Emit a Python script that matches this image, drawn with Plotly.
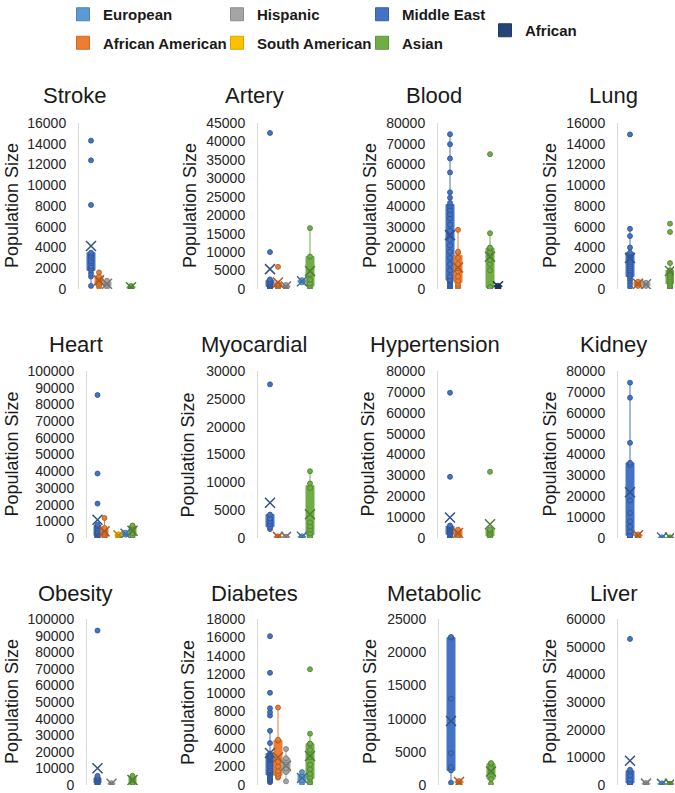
import numpy as np
import plotly.graph_objects as go

# series (order = position inside each small panel)
series_names = ["Middle East", "African American", "Hispanic", "South American",
                "European", "Asian", "African"]
series_colors = ["#4472C4", "#ED7D31", "#A5A5A5", "#FFC000", "#5B9BD5", "#70AD47", "#264478"]

panel_titles = ["Stroke", "Artery", "Blood", "Lung",
                "Heart", "Myocardial", "Hypertension", "Kidney",
                "Obesity", "Diabetes", "Metabolic", "Liver"]
y_max = [16000, 45000, 80000, 16000, 100000, 30000, 80000, 80000, 100000, 18000, 25000, 60000]
y_step = [2000, 5000, 10000, 2000, 10000, 5000, 10000, 10000, 10000, 2000, 5000, 10000]

# population sizes per study
stroke = {
    "Middle East": [300, 1200, 1500, 1800, 2000, 2200, 2500, 2700, 3000, 3200, 3400, 3500, 8100, 12400, 14300],
    "African American": [200, 400, 600, 800, 1000, 1200, 1600],
    "Hispanic": [200, 400, 600, 800],
    "Asian": [50, 100, 200, 300],
}
artery = {
    "Middle East": [200, 400, 600, 800, 1000, 1200, 1500, 1800, 2200, 2600, 10000, 42300],
    "African American": [300, 600, 900, 1200, 1500, 6000],
    "Hispanic": [300, 500, 800, 1100],
    "European": [1800, 2400],
    "Asian": [200, 800, 1500, 2500, 4000, 8800, 16500],
}
blood = {
    "Middle East": [300, 800, 1500, 2200, 3000, 3600, 4000, 4500, 6000, 9000, 12000, 15000, 18000, 21000,
                    23700, 26000, 28000, 31000, 34000, 36000, 38000, 40000, 41500, 44000, 46600, 56200,
                    62900, 69800, 74600],
    "African American": [600, 1500, 2500, 4000, 6000, 8500, 10000, 12000, 15000, 17500, 18000, 28500],
    "Asian": [200, 400, 600, 900, 9000, 12000, 14000, 16000, 18000, 19500, 20000, 26900, 65000],
    "African": [1000, 1600],
}
lung = {
    "Middle East": [200, 500, 800, 1000, 1200, 1400, 1600, 1800, 2000, 2200, 2400, 2600, 2800, 3000, 3500,
                    4000, 5100, 5800, 14900],
    "African American": [300, 500, 700],
    "Hispanic": [300, 600],
    "Asian": [100, 200, 300, 500, 700, 900, 1100, 1300, 1500, 1700, 1800, 2500, 5500, 6300],
}
heart = {
    "Middle East": [200, 400, 700, 1000, 1500, 2000, 2500, 3000, 3500, 4000, 5000, 6000, 7000, 7500, 8000,
                    20600, 38600, 85600],
    "African American": [300, 800, 1500, 2500, 3500, 5000, 6000, 12000],
    "South American": [1000, 1500, 2200],
    "European": [2000, 3200],
    "Asian": [500, 1500, 3000, 4500, 6000, 7000, 7500],
}
myocardial = {
    "Middle East": [1600, 2000, 2500, 3000, 3500, 4200, 27600],
    "African American": [100, 300],
    "Hispanic": [150, 250],
    "European": [150, 300],
    "Asian": [100, 300, 800, 1500, 2100, 2800, 9000, 9800, 12000],
}
hypertension = {
    "Middle East": [300, 800, 1200, 1800, 2500, 3000, 3500, 4000, 4500, 5000, 5600, 6000, 29300, 69600],
    "African American": [500, 1500, 2500, 3500, 4000],
    "Asian": [300, 1000, 2000, 3000, 3800, 4200, 31700],
}
kidney = {
    "Middle East": [100, 300, 600, 1300, 3000, 5300, 8000, 12000, 18000, 35000, 36000, 45600, 67200, 74400],
    "African American": [900, 1700],
    "European": [100, 300],
    "Asian": [100, 300],
}
obesity = {
    "Middle East": [200, 500, 1000, 1500, 2000, 2500, 3000, 3500, 4000, 4500, 5500, 93000],
    "Hispanic": [500, 1100],
    "Asian": [300, 1500, 3000, 4500, 5500],
}
diabetes = {
    "Middle East": [300, 400, 500, 600, 700, 800, 900, 1000, 1100, 1200, 1300, 1400, 1500, 1600, 1800, 2000,
                    2200, 2400, 2600, 2700, 2800, 2900, 3000, 3100, 3200, 3300, 3400,
                    4550, 5880, 7530, 7890, 8320, 10000, 12160, 16140],
    "African American": [800, 900, 1200, 1500, 2000, 2500, 4800, 4900, 8400],
    "Hispanic": [400, 1400, 1800, 2200, 2900, 3900],
    "European": [200, 500, 900, 1400],
    "Asian": [150, 300, 600, 800, 1200, 1700, 2200, 3000, 3800, 4450, 4500, 5560, 12550],
}
metabolic = {
    "Middle East": [350, 2200, 2700, 4800, 13000, 22200, 22300],
    "African American": [300, 600],
    "Asian": [200, 900, 2000, 2600, 3200, 3300],
}
liver = {
    "Middle East": [200, 500, 1000, 2000, 3500, 4800, 5500, 52800],
    "Hispanic": [300, 700],
    "European": [200, 600],
    "Asian": [300, 500],
}

panels = [stroke, artery, blood, lung, heart, myocardial, hypertension, kidney,
          obesity, diabetes, metabolic, liver]

# legend layout: which legend box each series sits in
legend_of = {"European": "legend", "African American": "legend",
             "Hispanic": "legend2", "South American": "legend2",
             "Middle East": "legend3", "Asian": "legend3", "African": "legend4"}
legend_rank = {"European": 1, "African American": 2, "Hispanic": 1, "South American": 2,
               "Middle East": 1, "Asian": 2, "African": 1}

W, H = 675, 793
FONT = "Liberation Sans, Arial, sans-serif"

# panel geometry in pixels
axis_x = [79, 258, 438, 618, 87, 258, 438, 618, 87, 258, 439, 618]
px_per_unit = [8, 8, 8, 8, 7, 8, 8, 8, 7, 8, 8, 8]
x_ranges = [[-1.5, 7], [-1.5, 7], [-1.5, 7], [-1.5, 5.5]] * 3
row_top = [123, 371, 619]
row_bot = [289, 538, 785]
title_x = [75, 254, 434, 613, 76, 254, 435, 613, 75, 254, 434, 614]
title_y = [96, 344, 593]
ytitle_x = [0, 178, 358, 538, 0, 176, 356, 538, 0, 176, 358, 538]


def darken(hex_col, f=0.72):
    h = hex_col.lstrip("#")
    r, g, b = (int(h[i:i + 2], 16) for i in (0, 2, 4))
    return "rgb({},{},{})".format(int(r * f), int(g * f), int(b * f))


fig = go.Figure()
annotations = []
layout = {}

# legend entries (filled squares like the original)
for name, col in zip(series_names, series_colors):
    fig.add_trace(go.Scatter(
        x=[None], y=[None], mode="markers", name=name,
        legend=legend_of[name], legendgroup=name, legendrank=legend_rank[name],
        marker=dict(symbol="square", size=13, color=col, line=dict(color=darken(col, 0.85), width=1)),
    ))

for k, (title, data) in enumerate(zip(panel_titles, panels)):
    n = k + 1
    xa = "x" if n == 1 else f"x{n}"
    ya = "y" if n == 1 else f"y{n}"
    row = k // 4

    for i, (name, col) in enumerate(zip(series_names, series_colors)):
        vals = data.get(name)
        if not vals:
            continue
        fig.add_trace(go.Box(
            y=vals, x0=i, name=name, xaxis=xa, yaxis=ya,
            legendgroup=name, showlegend=False,
            boxpoints="all", jitter=0, pointpos=0, quartilemethod="exclusive",
            width=1.0, whiskerwidth=0.5,
            fillcolor=col, line=dict(color=col, width=1),
            marker=dict(color=col, size=5, line=dict(color=darken(col), width=0.8)),
        ))
        fig.add_trace(go.Scatter(
            x=[i], y=[np.mean(vals)], xaxis=xa, yaxis=ya, mode="markers",
            legendgroup=name, showlegend=False, hoverinfo="skip",
            marker=dict(symbol="x-thin-open", size=10, color=darken(col),
                        line=dict(color=darken(col), width=1.5)),
        ))

    x0 = axis_x[k]
    width = px_per_unit[k] * (x_ranges[k][1] - x_ranges[k][0])
    layout[xa.replace("x", "xaxis")] = dict(
        domain=[x0 / W, min(1.0, (x0 + width) / W)], range=x_ranges[k], type="linear",
        anchor=ya, showticklabels=False, showgrid=False, zeroline=False, showline=False, ticks="")
    layout[ya.replace("y", "yaxis")] = dict(
        domain=[1 - row_bot[row] / H, 1 - row_top[row] / H], range=[0, y_max[k]],
        dtick=y_step[k], tick0=0, anchor=xa, showgrid=False, zeroline=False,
        showline=True, linecolor="#D9D9D9", linewidth=1, ticks="",
        ticklabelstandoff=9, tickformat="d", ticklabeloverflow="allow",
        tickfont=dict(family=FONT, size=14, color="#262626"))

    annotations.append(dict(text=title, x=title_x[k] / W, y=1 - title_y[row] / H,
                            xref="paper", yref="paper", xanchor="center", yanchor="middle",
                            showarrow=False, font=dict(family=FONT, size=22, color="#1a1a1a")))
    annotations.append(dict(text="Population Size", x=ytitle_x[k] / W,
                            y=1 - (row_top[row] + row_bot[row]) / 2 / H,
                            xref="paper", yref="paper", xanchor="left", yanchor="middle",
                            textangle=-90, showarrow=False,
                            font=dict(family=FONT, size=18, color="#1a1a1a")))

legend_font = dict(family=FONT, size=15, color="#1a1a1a", weight="bold")
leg = dict(xanchor="left", yanchor="top", traceorder="grouped", tracegroupgap=6,
           bgcolor="rgba(0,0,0,0)", font=legend_font, itemwidth=30)

fig.update_layout(
    width=W, height=H, margin=dict(l=0, r=0, t=0, b=0, autoexpand=False),
    paper_bgcolor="white", plot_bgcolor="white",
    boxmode="overlay",
    annotations=annotations,
    legend=dict(leg, x=63 / W, y=1 + 2 / H),
    legend2=dict(leg, x=217 / W, y=1 + 2 / H),
    legend3=dict(leg, x=362 / W, y=1 + 2 / H),
    legend4=dict(leg, x=485 / W, y=1 - 14 / H),
    **layout,
)

# drop the default page margin so the figure sits at the window's corner
fig.write_html("out.html", config={"displayModeBar": False},
               post_script="document.body.style.margin='0';")
